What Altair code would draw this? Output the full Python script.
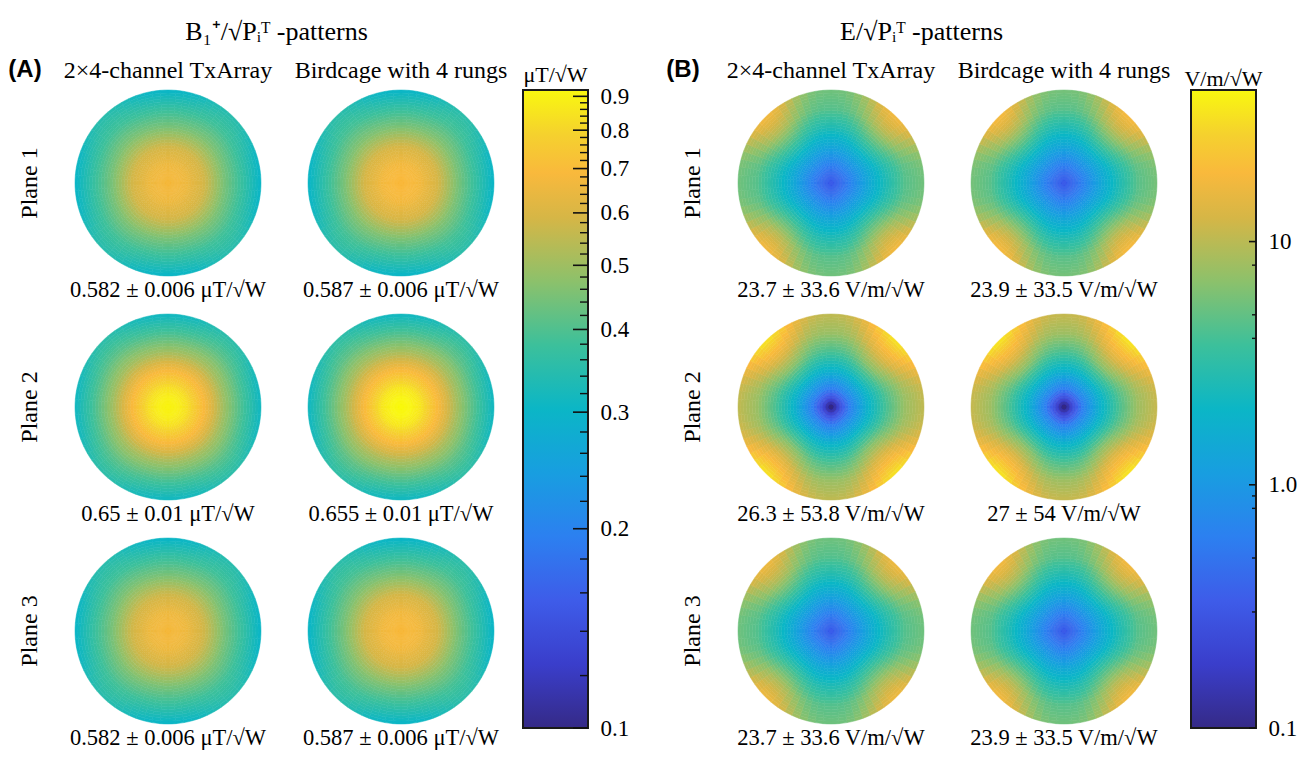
import altair as alt
import numpy as np
import pandas as pd

# ---------------- data ----------------
PLANES = ["Plane 1", "Plane 2", "Plane 3"]
COILS = ["2×4-channel TxArray", "Birdcage with 4 rungs"]

# normalised radius at which the profiles were read
R_NODES = [0.0, 0.1, 0.2, 0.4, 0.6, 0.8, 1.0]

# B1+/sqrt(P) maps (uT/sqrt(W)); profile along x/y axes and along the diagonals
B_P1_TX_AXIS = [0.675, 0.67, 0.655, 0.58, 0.45, 0.37, 0.30]
B_P1_TX_DIAG = [0.675, 0.67, 0.655, 0.58, 0.46, 0.385, 0.345]
B_P1_BC_AXIS = [0.69, 0.685, 0.67, 0.59, 0.455, 0.37, 0.30]
B_P1_BC_DIAG = [0.69, 0.685, 0.67, 0.59, 0.465, 0.39, 0.35]
B_P2_TX_AXIS = [0.90, 0.89, 0.84, 0.68, 0.50, 0.39, 0.31]
B_P2_TX_DIAG = [0.90, 0.89, 0.84, 0.68, 0.51, 0.41, 0.35]
B_P2_BC_AXIS = [0.92, 0.91, 0.86, 0.69, 0.51, 0.395, 0.31]
B_P2_BC_DIAG = [0.92, 0.91, 0.86, 0.69, 0.52, 0.415, 0.355]
B_P3_TX_AXIS = [0.675, 0.67, 0.655, 0.575, 0.45, 0.37, 0.30]
B_P3_TX_DIAG = [0.675, 0.67, 0.655, 0.575, 0.46, 0.385, 0.345]
B_P3_BC_AXIS = [0.685, 0.68, 0.665, 0.585, 0.455, 0.37, 0.30]
B_P3_BC_DIAG = [0.685, 0.68, 0.665, 0.585, 0.465, 0.39, 0.35]

# E/sqrt(P) maps (V/m/sqrt(W))
E_P1_TX_AXIS = [0.33, 0.42, 0.62, 1.4, 2.7, 4.6, 5.6]
E_P1_TX_DIAG = [0.33, 0.43, 0.66, 1.6, 4.2, 10.0, 18.0]
E_P1_BC_AXIS = [0.33, 0.42, 0.62, 1.4, 2.7, 4.7, 5.8]
E_P1_BC_DIAG = [0.33, 0.43, 0.66, 1.6, 4.3, 10.3, 19.0]
E_P2_TX_AXIS = [0.08, 0.25, 0.60, 1.9, 4.2, 7.7, 10.5]
E_P2_TX_DIAG = [0.08, 0.26, 0.65, 2.2, 6.8, 16.0, 34.0]
E_P2_BC_AXIS = [0.08, 0.24, 0.60, 1.9, 4.3, 8.0, 11.0]
E_P2_BC_DIAG = [0.08, 0.25, 0.65, 2.2, 7.0, 16.5, 35.0]
E_P3_TX_AXIS = [0.34, 0.43, 0.63, 1.4, 2.7, 4.5, 5.5]
E_P3_TX_DIAG = [0.34, 0.44, 0.67, 1.6, 4.1, 9.5, 17.0]
E_P3_BC_AXIS = [0.33, 0.42, 0.62, 1.4, 2.7, 4.6, 5.6]
E_P3_BC_DIAG = [0.33, 0.43, 0.66, 1.6, 4.2, 9.9, 18.0]

B_LABELS = ["0.582 ± 0.006 μT/√W", "0.587 ± 0.006 μT/√W",
            "0.65 ± 0.01 μT/√W", "0.655 ± 0.01 μT/√W",
            "0.582 ± 0.006 μT/√W", "0.587 ± 0.006 μT/√W"]
E_LABELS = ["23.7 ± 33.6 V/m/√W", "23.9 ± 33.5 V/m/√W",
            "26.3 ± 53.8 V/m/√W", "27 ± 54 V/m/√W",
            "23.7 ± 33.6 V/m/√W", "23.9 ± 33.5 V/m/√W"]

B_RANGE = [0.1, 0.92]
E_RANGE = [0.1, 42.0]
B_TICKS = [0.1, 0.2, 0.3, 0.4, 0.5, 0.6, 0.7, 0.8, 0.9]
B_MINOR = [0.12, 0.14, 0.16, 0.18, 0.22, 0.24, 0.26, 0.28, 0.32, 0.34, 0.36, 0.38,
           0.42, 0.44, 0.46, 0.48, 0.52, 0.54, 0.56, 0.58, 0.62, 0.64, 0.66, 0.68,
           0.72, 0.74, 0.76, 0.78, 0.82, 0.84, 0.86, 0.88]
E_TICKS = [0.1, 1.0, 10.0]
E_MINOR = [0.3, 0.5, 0.8, 0.9, 4.0, 5.0, 8.0]

# parula-like colour map
PARULA_POS = [0.0, 0.1, 0.2, 0.3, 0.4, 0.5, 0.6, 0.7, 0.8, 0.87, 0.93, 1.0]
PARULA_HEX = ["#352a87", "#3a3ecb", "#3e5ce9", "#2c80f0", "#189ee0", "#0bb6c6",
              "#3cc09b", "#8cc16b", "#d6b646", "#f9b93c", "#f5d12e", "#f9f80f"]

SERIF = "Liberation Serif"
SANS = "Liberation Sans"
NR, NT = 32, 72
RAD = 93


def build(profiles, labels):
    rc = (np.arange(NR) + 0.5) / NR
    tc = (np.arange(NT) + 0.5) * 360.0 / NT
    w = np.abs(np.sin(np.radians(2 * tc))) ** 3
    frames = []
    k = 0
    for plane in PLANES:
        for coil in COILS:
            axis, diag = profiles[k]
            la = np.interp(rc, R_NODES, np.log(axis))
            ld = np.interp(rc, R_NODES, np.log(diag))
            vals = np.exp((1 - w)[None, :] * la[:, None] + w[None, :] * ld[:, None])
            ii, jj = np.meshgrid(np.arange(NR), np.arange(NT), indexing="ij")
            f = pd.DataFrame({
                "plane": plane, "coil": coil, "kind": "cell",
                "r0": (ii.ravel() / NR).round(4), "r1": ((ii.ravel() + 1) / NR).round(4),
                "t0": (jj.ravel() * 360.0 / NT).round(3), "t1": ((jj.ravel() + 1) * 360.0 / NT).round(3),
                "v": vals.ravel().round(4), "lab": "",
            })
            frames.append(f)
            frames.append(pd.DataFrame({"plane": [plane], "coil": [coil], "kind": ["label"],
                                        "r0": [0.0], "r1": [0.0], "t0": [0.0], "t1": [0.0],
                                        "v": [1.0], "lab": [labels[k]]}))
            k += 1
    return pd.concat(frames, ignore_index=True)


def color_scale(rng):
    dom = [rng[0] * (rng[1] / rng[0]) ** t for t in PARULA_POS]
    return alt.Scale(type="log", domain=dom, range=PARULA_HEX, clamp=True, interpolate="rgb")


def make_grid(df, rng, tag, tag_dx):
    cs = color_scale(rng)
    arcs = alt.Chart().transform_filter(alt.datum.kind == "cell").mark_arc(strokeWidth=0.5).encode(
        x=alt.value(RAD), y=alt.value(RAD),
        theta=alt.Theta("t0:Q", scale=alt.Scale(domain=[0, 360], range=[0, 2 * np.pi]), stack=None),
        theta2="t1:Q",
        radius=alt.Radius("r0:Q", scale=alt.Scale(type="linear", domain=[0, 1], range=[0, RAD])),
        radius2="r1:Q",
        color=alt.Color("v:Q", scale=cs, legend=None),
        stroke=alt.Stroke("v:Q", scale=cs, legend=None),
    )
    labels = alt.Chart().transform_filter(alt.datum.kind == "label").mark_text(
        font=SERIF, fontSize=22.5, baseline="middle", align="center", color="black"
    ).encode(x=alt.value(RAD), y=alt.value(RAD + 107), text="lab:N")
    planes = alt.Chart().transform_filter(
        (alt.datum.kind == "label") & (alt.datum.coil == COILS[0])
    ).mark_text(font=SERIF, fontSize=24, baseline="middle", align="center", angle=270,
                color="black").encode(x=alt.value(-45), y=alt.value(RAD), text="plane:N")
    tagtext = alt.Chart().transform_filter(
        (alt.datum.kind == "label") & (alt.datum.plane == PLANES[0]) & (alt.datum.coil == COILS[0])
    ).mark_text(text=tag, font=SANS, fontWeight="bold", fontSize=24, baseline="middle",
                align="center", color="black").encode(x=alt.value(tag_dx), y=alt.value(-20))
    layer = alt.layer(arcs, labels, planes, tagtext, data=df).properties(width=2 * RAD, height=2 * RAD)
    return layer.facet(
        row=alt.Row("plane:N", sort=PLANES, header=alt.Header(title=None, labels=False)),
        column=alt.Column("coil:N", sort=COILS, header=alt.Header(
            title=None, labelOrient="top", labelFont=SERIF, labelFontSize=24,
            labelColor="black", labelPadding=7)),
        spacing={"row": 38, "column": 47},
        bounds="flush",
    )


def make_cbar(rng, ticks, minor, unit, fmt, label_expr, major_len, minor_len):
    W = 65
    ys = alt.Scale(type="log", domain=rng, nice=False)
    ax = alt.Axis(orient="right", values=ticks, format=fmt, labelExpr=label_expr, ticks=False,
                  domain=False, grid=False, labelFont=SERIF, labelFontSize=23, labelColor="black",
                  labelPadding=12, labelOverlap=False, title=None)
    grad = alt.Gradient(gradient="linear",
                        stops=[alt.GradientStop(offset=p, color=c) for p, c in zip(PARULA_POS, PARULA_HEX)],
                        x1=0, x2=0, y1=1, y2=0)
    bar = alt.Chart(pd.DataFrame({"lo": [rng[0]], "hi": [rng[1]]})).mark_rect(
        fill=grad, stroke="#1a1a1a", strokeWidth=2
    ).encode(
        x=alt.value(0), x2=alt.value(W),
        y=alt.Y("lo:Q", scale=ys, axis=ax),
        y2="hi:Q",
    )
    maj = alt.Chart(pd.DataFrame({"t": ticks})).mark_rule(color="#111111", strokeWidth=1.6).encode(
        x=alt.value(W - major_len), x2=alt.value(W), y=alt.Y("t:Q", scale=ys, axis=ax))
    mnr = alt.Chart(pd.DataFrame({"t": minor})).mark_rule(color="#111111", strokeWidth=1.4).encode(
        x=alt.value(W - minor_len), x2=alt.value(W), y=alt.Y("t:Q", scale=ys, axis=ax))
    return alt.layer(bar, maj, mnr).properties(
        width=W, height=638,
        title=alt.TitleParams(unit, font=SERIF, fontSize=22, fontWeight="normal", color="black",
                              offset=-2, anchor="middle"))


b_profiles = [(B_P1_TX_AXIS, B_P1_TX_DIAG), (B_P1_BC_AXIS, B_P1_BC_DIAG),
              (B_P2_TX_AXIS, B_P2_TX_DIAG), (B_P2_BC_AXIS, B_P2_BC_DIAG),
              (B_P3_TX_AXIS, B_P3_TX_DIAG), (B_P3_BC_AXIS, B_P3_BC_DIAG)]
e_profiles = [(E_P1_TX_AXIS, E_P1_TX_DIAG), (E_P1_BC_AXIS, E_P1_BC_DIAG),
              (E_P2_TX_AXIS, E_P2_TX_DIAG), (E_P2_BC_AXIS, E_P2_BC_DIAG),
              (E_P3_TX_AXIS, E_P3_TX_DIAG), (E_P3_BC_AXIS, E_P3_BC_DIAG)]

df_b = build(b_profiles, B_LABELS)
df_e = build(e_profiles, E_LABELS)

grid_a = make_grid(df_b, B_RANGE, "(A)", -50)
grid_b = make_grid(df_e, E_RANGE, "(B)", -55)
cbar_a = make_cbar(B_RANGE, B_TICKS, B_MINOR, "μT/√W", ".1f", "datum.label", 15, 8)
cbar_b = make_cbar(E_RANGE, E_TICKS, E_MINOR, "V/m/√W", ".1~f",
                   "datum.value == 1 ? '1.0' : datum.label", 7, 4)

panel_a = alt.hconcat(grid_a, cbar_a, spacing=14).properties(
    title=alt.TitleParams("B₁⁺/√Pᵢᵀ -patterns", font=SERIF, fontSize=26, fontWeight="normal",
                          color="black", anchor="middle", dx=-42, offset=13))
panel_b = alt.hconcat(grid_b, cbar_b, spacing=13).properties(
    title=alt.TitleParams("E/√Pᵢᵀ -patterns", font=SERIF, fontSize=26, fontWeight="normal",
                          color="black", anchor="middle", dx=-60, offset=13))

chart = alt.hconcat(panel_a, panel_b, spacing=37).resolve_scale(
    color="independent", stroke="independent"
).properties(
    padding={"left": 0, "top": 11, "right": 0, "bottom": 0},
    background="white",
).configure_view(stroke="transparent", strokeWidth=0)

chart.save("out.html", embed_options={"renderer": "svg", "actions": False})
